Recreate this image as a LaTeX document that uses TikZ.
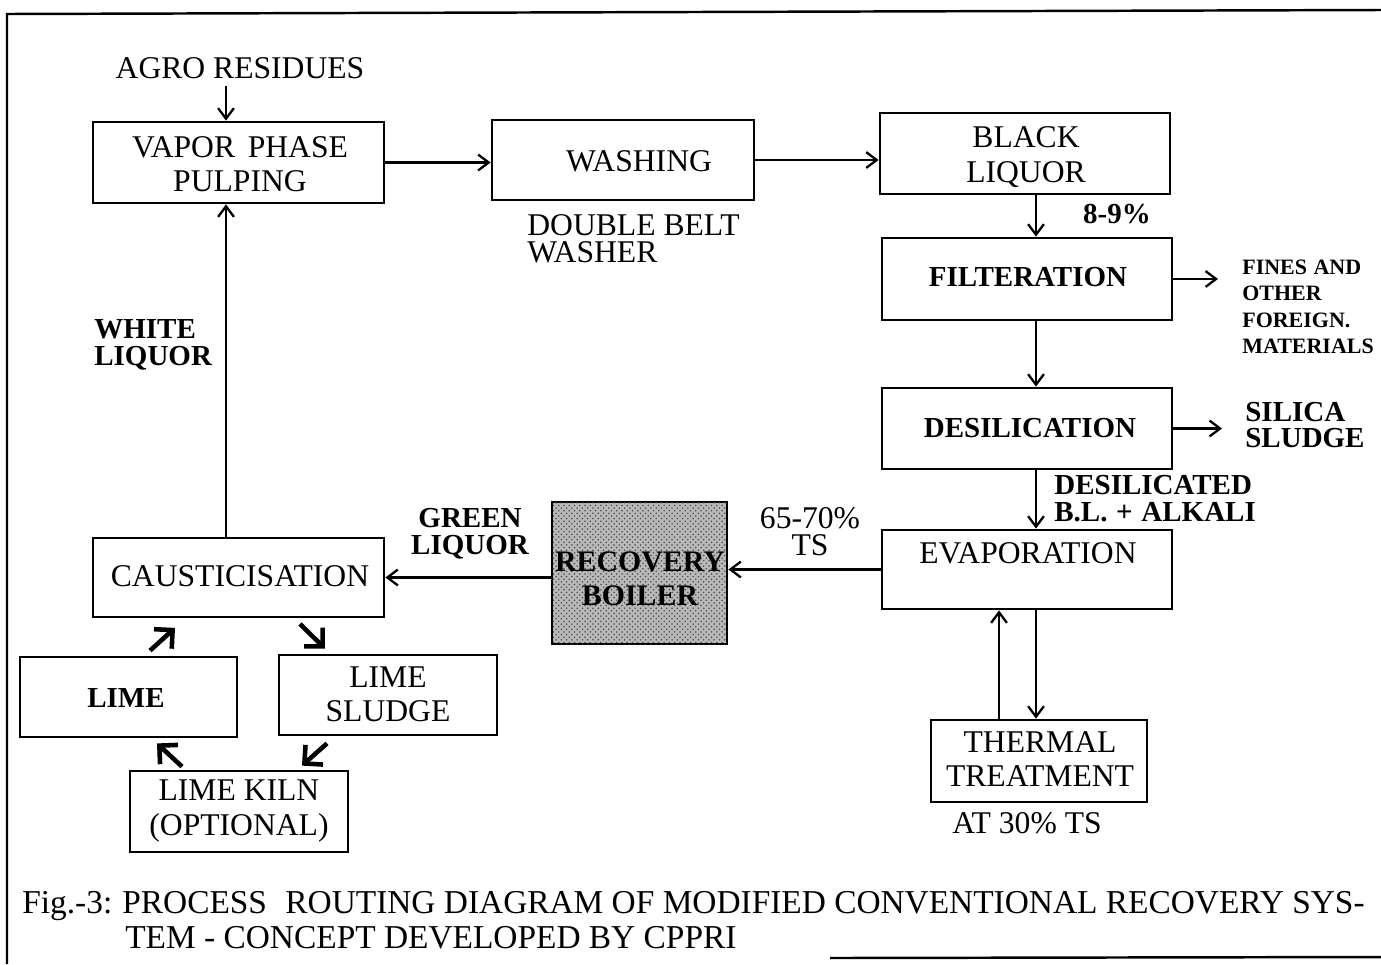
\documentclass[tikz,border=0pt]{standalone}
\usepackage{fontspec}
\setmainfont{Liberation Serif}
\usetikzlibrary{arrows.meta,calc,patterns}
\begin{document}
\begin{tikzpicture}[x=0.02cm,y=-0.02cm,
  box/.style={draw, line width=1.6pt, inner sep=0pt},
  lbl/.style={font=\fontsize{18}{19.5}\selectfont, align=center, inner sep=0pt},
  lblb/.style={font=\fontsize{16.5}{19.5}\selectfont\bfseries, align=center, inner sep=0pt},
  tlbl/.style={font=\fontsize{18}{15.3}\selectfont, inner sep=0pt},
  tlblb/.style={font=\fontsize{16.5}{15.3}\selectfont\bfseries, inner sep=0pt},
  small/.style={font=\fontsize{12.5}{15}\selectfont\bfseries, align=left, inner sep=0pt},
  arr/.style={line width=1.3pt, -{Straight Barb[length=6pt,width=9pt]}},
  thk/.style={line width=2.6pt, -{Straight Barb[length=7.5pt,width=15pt]}},
  frame/.style={line width=1.4pt}
]
\useasboundingbox (0,0) rectangle (1381,964);
% frame
\draw[frame] (1381,10) -- (7,14) -- (7,964);
\draw[frame] (830,958) -- (1381,957);

% boxes
\node[box, minimum width=5.82cm, minimum height=1.62cm] (vap) at (238.5,162.5) {};
\node[box, minimum width=5.24cm, minimum height=1.60cm] (wash) at (623,160) {};
\node[box, minimum width=5.80cm, minimum height=1.62cm] (black) at (1025,153.5) {};
\node[box, minimum width=5.80cm, minimum height=1.64cm] (filt) at (1027,279) {};
\node[box, minimum width=5.80cm, minimum height=1.62cm] (desil) at (1027,428.5) {};
\node[box, minimum width=5.80cm, minimum height=1.58cm] (evap) at (1027,569.5) {};
\node[box, minimum width=4.32cm, minimum height=1.64cm] (therm) at (1039,761) {};
\node[box, minimum width=3.50cm, minimum height=2.84cm, fill=gray!55,
      postaction={pattern=crosshatch dots, pattern color=black!70}] (rec) at (639.5,573) {};
\node[box, minimum width=5.82cm, minimum height=1.58cm] (caus) at (238.5,577.5) {};
\node[box, minimum width=4.34cm, minimum height=1.60cm] (lime) at (128.5,697) {};
\node[box, minimum width=4.36cm, minimum height=1.60cm] (sludge) at (388,695) {};
\node[box, minimum width=4.36cm, minimum height=1.62cm] (kiln) at (239,811.5) {};

% box texts
\node[lbl] (tvap) at (240,164) {VAPOR\hspace{0.4em}PHASE\\PULPING};
\node[lbl] (twash) at (639,161) {WASHING};
\node[lbl] (tblack) at (1026,157) {BLACK\\LIQUOR};
\node[lblb] (tfilt) at (1028,277) {FILTERATION};
\node[lblb] (tdesil) at (1030,428) {DESILICATION};
\node[lbl] (tevap) at (1028,553) {EVAPORATION};
\node[lbl] (ttherm) at (1040,759) {THERMAL\\TREATMENT};
\node[font=\fontsize{17}{19.5}\selectfont\bfseries, align=center, inner sep=0pt] (trec) at (640,579) {RECOVERY\\BOILER};
\node[lbl] (tcaus) at (240,576) {CAUSTICISATION};
\node[lblb] (tlime) at (126,698) {LIME};
\node[lbl] (tsludge) at (388,694) {LIME\\SLUDGE};
\node[lbl] (tkiln) at (239,811) {LIME KILN\\(OPTIONAL)};

% free labels
\node[lbl] (agro) at (240,68) {AGRO RESIDUES};
\node[tlbl, align=left, anchor=west] (dbw) at (527,239) {DOUBLE BELT\\WASHER};
\node[tlblb] (p89) at (1117,214) {8-9\%};
\node[small, anchor=west] (fines) at (1242,307) {FINES\hspace{0.3em}AND\\OTHER\\FOREIGN.\\MATERIALS};
\node[tlblb, align=left, anchor=west] (silica) at (1245,425) {SILICA\\SLUDGE};
\node[tlblb, align=left, anchor=west] (dsl) at (1054,499) {DESILICATED\\B.L.\hspace{0.3em}+\hspace{0.3em}ALKALI};
\node[tlbl, align=center] (p6570) at (810,532) {65-70\%\\TS};
\node[tlblb, align=center] (green) at (470,534) {GREEN\\LIQUOR};
\node[tlblb, align=left, anchor=west] (white) at (94,345) {WHITE\\LIQUOR};
\node[tlbl] (at30) at (1027,823) {AT 30\% TS};

% caption
\node[font=\fontsize{19}{22}\selectfont, anchor=base west, inner sep=0pt] (cap1) at (22,913)
  {Fig.-3:\hspace{0.3em}PROCESS\hspace{0.55em}ROUTING DIAGRAM OF MODIFIED CONVENTIONAL RECOVERY SYS-};
\node[font=\fontsize{19}{22}\selectfont, anchor=base west, inner sep=0pt] (cap2) at (125,948)
  {TEM - CONCEPT DEVELOPED BY CPPRI};

% coordinates for free ends
\coordinate (fa) at (1218,279);
\coordinate (sa) at (1222,428.5);

% connectors
\draw[arr, shorten <=4pt] ([xshift=-0.25cm]vap.north |- agro.south) -- ([xshift=-0.25cm]vap.north);
\draw[arr] (vap.east) -- (vap.east -| wash.west);
\draw[arr] (wash.east) -- (wash.east -| black.west);
\draw[arr] ([xshift=0.22cm]black.south) -- ([xshift=0.22cm]black.south |- filt.north);
\draw[arr] (filt.east) -- (fa);
\draw[arr] ([xshift=0.18cm]filt.south) -- ([xshift=0.18cm]filt.south |- desil.north);
\draw[arr] (desil.east) -- (sa);
\draw[arr] ([xshift=0.18cm]desil.south) -- ([xshift=0.18cm]desil.south |- evap.north);
\draw[arr] (evap.west) -- (evap.west -| rec.east);
\draw[arr] (rec.west |- caus.east) -- (caus.east);
\draw[arr] ([xshift=-0.25cm]caus.north) -- ([xshift=-0.25cm]vap.south);
\draw[arr] ([xshift=-0.8cm]therm.north) -- ([xshift=-0.8cm]therm.north |- evap.south);
\draw[arr] ([xshift=-0.06cm]therm.north |- evap.south) -- ([xshift=-0.06cm]therm.north);

% thick diagonal arrows
\draw[thk] ($(lime.north)+(21.5,-5)$) -- ($(caus.south)+(-63.5,9.5)$);
\draw[thk] ($(caus.south)+(61.5,5.5)$) -- ($(sludge.north)+(-63,-5)$);
\draw[thk] ($(sludge.south)+(-61,7)$) -- ($(kiln.north)+(63,-4)$);
\draw[thk] ($(kiln.north)+(-57,-3)$) -- ($(lime.south)+(28.5,5)$);
\end{tikzpicture}
\end{document}
